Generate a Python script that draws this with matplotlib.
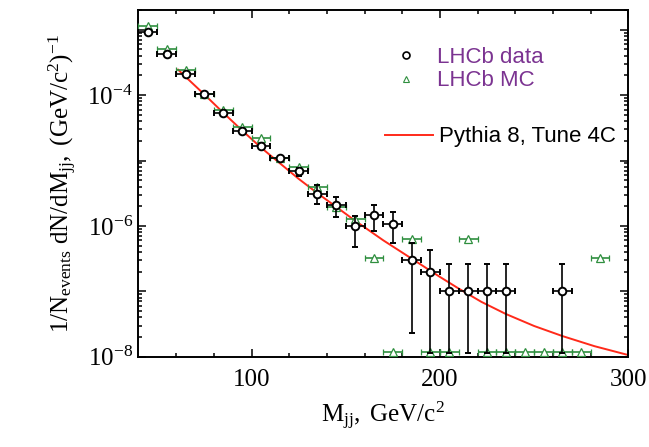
import numpy as np
import matplotlib
matplotlib.use("Agg")
import matplotlib.pyplot as plt
from matplotlib.lines import Line2D
from matplotlib.ticker import FixedLocator, FixedFormatter, LogLocator, NullFormatter

plt.rcParams['font.family'] = ['Liberation Serif', 'DejaVu Serif']
plt.rcParams['mathtext.fontset'] = 'custom'
plt.rcParams['mathtext.rm'] = 'Liberation Serif'
plt.rcParams['mathtext.it'] = 'Liberation Serif:italic'

# LHCb data (bin centres, values, lower / upper error bounds)
data_x = [45, 55, 65, 75, 85, 95, 105, 115, 125, 135, 145, 155, 165, 175,
          185, 195, 205, 215, 225, 235, 265]
data_y = [9.1e-4, 4.3e-4, 2.13e-4, 1.04e-4, 5.25e-5, 2.82e-5, 1.67e-5, 1.11e-5,
          6.8e-6, 3.07e-6, 2.09e-6, 9.8e-7, 1.49e-6, 1.07e-6, 2.96e-7, 2.0e-7,
          1.0e-7, 1.0e-7, 1.0e-7, 1.0e-7, 1.0e-7]
data_lo = [8.6e-4, 4.1e-4, 2.03e-4, 9.9e-5, 5.0e-5, 2.68e-5, 1.58e-5, 1.03e-5,
           5.8e-6, 2.16e-6, 1.35e-6, 4.7e-7, 8.5e-7, 5.5e-7, 2.27e-8, 1.15e-8,
           1.15e-8, 1.15e-8, 1.15e-8, 1.15e-8, 1.15e-8]
data_hi = [9.6e-4, 4.5e-4, 2.23e-4, 1.09e-4, 5.5e-5, 2.96e-5, 1.76e-5, 1.19e-5,
           7.8e-6, 4.25e-6, 2.79e-6, 1.44e-6, 2.09e-6, 1.61e-6, 5.43e-7, 4.21e-7,
           2.58e-7, 2.58e-7, 2.58e-7, 2.58e-7, 2.58e-7]

# LHCb MC
mc_x = [45, 55, 65, 75, 85, 95, 105, 115, 125, 135, 145, 155, 165, 175, 185,
        195, 205, 215, 225, 235, 245, 255, 265, 275, 285]
mc_y = [1.12e-3, 5.05e-4, 2.45e-4, 1.05e-4, 6.0e-5, 3.25e-5, 2.23e-5, 1.08e-5,
        8.0e-6, 3.96e-6, 1.92e-6, 1.28e-6, 3.2e-7, 1.2e-8, 6.3e-7, 1.2e-8,
        1.2e-8, 6.3e-7, 1.2e-8, 1.2e-8, 1.2e-8, 1.2e-8, 1.2e-8, 1.2e-8, 3.2e-7]
bin_half = 5

# Pythia 8, Tune 4C
py_x = [61, 65, 75, 85, 95, 105, 115, 125, 135, 145, 155, 170, 185, 200, 210,
        222, 235, 250, 265, 282, 300]
py_y = [2.45e-4, 1.9e-4, 1.02e-4, 5.37e-5, 2.88e-5, 1.58e-5, 9.1e-6, 5.25e-6,
        3.16e-6, 1.95e-6, 1.2e-6, 6.0e-7, 3.16e-7, 1.66e-7, 1.1e-7, 6.9e-8,
        4.5e-8, 2.95e-8, 2.07e-8, 1.45e-8, 1.06e-8]

green = '#2f8f3f'
purple = '#7b3391'

fig = plt.figure(figsize=(6.49, 4.47), dpi=100)
ax = fig.add_axes([0.2134, 0.202, 0.7547, 0.7756])

ax.plot(py_x, py_y, color='#ff2a1a', lw=1.4, zorder=2)

ax.errorbar(mc_x, mc_y, xerr=bin_half, fmt='^', ms=5.5, mfc='white', mec=green,
            mew=0.9, ecolor=green, elinewidth=1.2, capsize=2.5, capthick=1.2,
            zorder=3, clip_on=False)

dy = np.array(data_y)
yerr = [dy - np.array(data_lo), np.array(data_hi) - dy]
ax.errorbar(data_x, data_y, xerr=bin_half, yerr=yerr, fmt='o', ms=5.5,
            mfc='white', mec='black', mew=1.4, ecolor='black', elinewidth=1.2,
            capsize=2.5, capthick=1.2, zorder=4)

ax.set_yscale('log')
ax.set_xlim(40, 300)
ax.set_ylim(1e-8, 2e-3)

ax.xaxis.set_major_locator(FixedLocator([100, 200, 300]))
ax.xaxis.set_minor_locator(FixedLocator(np.arange(60, 300, 20)))
ax.yaxis.set_major_locator(FixedLocator([1e-8, 1e-7, 1e-6, 1e-5, 1e-4, 1e-3]))
ax.yaxis.set_major_formatter(FixedFormatter(
    [r'$\mathregular{10^{-8}}$', '', r'$\mathregular{10^{-6}}$', '',
     r'$\mathregular{10^{-4}}$', '']))
ax.yaxis.set_minor_locator(LogLocator(base=10, subs=np.arange(2, 10)))
ax.yaxis.set_minor_formatter(NullFormatter())

ax.tick_params(which='both', direction='in', top=True, right=True, width=1.1)
ax.tick_params(which='major', length=6, labelsize=18)
ax.tick_params(which='minor', length=3)
ax.tick_params(axis='x', pad=9)
ax.tick_params(axis='y', pad=4)
for s in ax.spines.values():
    s.set_linewidth(1.4)

ax.set_xlabel(r'$\mathregular{M_{jj},\ GeV/c^{2}}$', fontsize=18, labelpad=6)
ax.set_ylabel(r'$\mathregular{1/N_{events}\ dN/dM_{jj},\ (GeV/c^{2})^{-1}}$',
              fontsize=18, labelpad=6)

h1 = Line2D([], [], ls='none', marker='o', ms=5, mfc='white', mec='black', mew=1.2)
h2 = Line2D([], [], ls='none', marker='^', ms=5, mfc='white', mec=green, mew=0.8)
leg1 = ax.legend([h1, h2], ['LHCb data', 'LHCb MC'], loc='center left',
                 bbox_to_anchor=(0.506, 0.829), frameon=False, borderpad=0,
                 borderaxespad=0, handlelength=1.8, handletextpad=0.5,
                 labelspacing=0.1, prop={'family': 'Liberation Sans', 'size': 16})
for t in leg1.get_texts():
    t.set_color(purple)
ax.add_artist(leg1)

h3 = Line2D([], [], color='#ff2a1a', lw=1.4)
ax.legend([h3], ['Pythia 8, Tune 4C'], loc='center left',
          bbox_to_anchor=(0.503, 0.634), frameon=False, borderpad=0,
          borderaxespad=0, handlelength=2.16, handletextpad=0.27,
          prop={'family': 'Liberation Sans', 'size': 16})

fig.savefig('out.png', dpi=100)
